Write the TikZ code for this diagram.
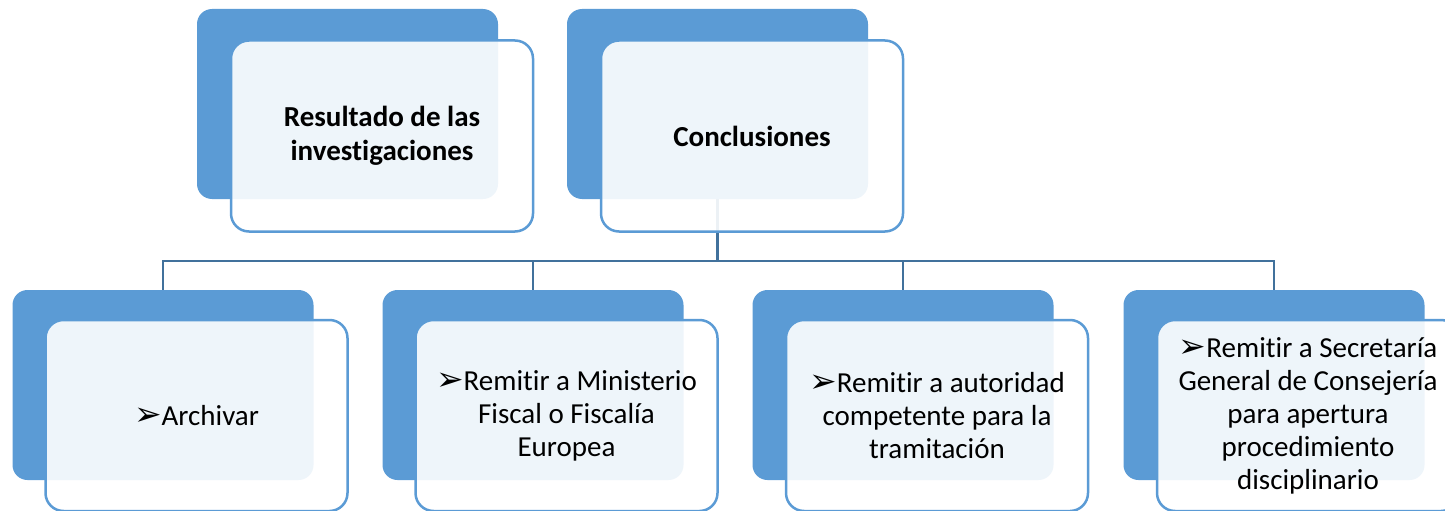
\documentclass[tikz,border=0pt]{standalone}
\usepackage{fontspec}
\setmainfont{Carlito}[Ligatures=NoCommon]
\newfontfamily\dingfont{DejaVu Sans}
\definecolor{boxblue}{HTML}{5B9BD5}
\definecolor{lineblue}{HTML}{41719C}
\newcommand{\bul}{{\dingfont\fontsize{33}{33}\selectfont ➢}}

\begin{document}
\begin{tikzpicture}[x=1pt, y=-1pt,
  back/.style={fill=boxblue, rounded corners=15pt, inner sep=0pt,
    minimum width=301pt, minimum height=190pt},
  front/.style={draw=boxblue, line width=2.5pt, fill=white, fill opacity=0.9,
    text opacity=1, rounded corners=18pt, inner sep=0pt,
    minimum width=302pt, minimum height=191pt, align=center,
    font=\fontsize{29}{33}\selectfont},
  link/.style={draw=lineblue, line width=2.8pt}]
\useasboundingbox (0,0) rectangle (1445,511);

% Back boxes, top row
\node[back] (resback) at (347.5,104) {};
\node[back] (conback) at (717.5,104) {};

% Back boxes, bottom row
\node[back] (arcback) at (163,385) {};
\node[back] (minback) at (533,385) {};
\node[back] (autback) at (903,385) {};
\node[back] (secback) at (1274,385) {};

% Connectors from Conclusions to the four outcomes
\coordinate (bar) at (0,261);
\draw[link] (conback.south) -- (conback.south |- bar);
\draw[link] (arcback.north) -- (arcback.north |- bar) -- (secback.north |- bar) -- (secback.north);
\draw[link] (minback.north) -- (minback.north |- bar);
\draw[link] (autback.north) -- (autback.north |- bar);

% Front boxes with the texts
\node[front, font=\fontsize{29}{34}\selectfont\bfseries] (res) at (382,136) {Resultado de las\\investigaciones};
\node[front, font=\fontsize{29}{34}\selectfont\bfseries] (con) at (752,136) {Conclusiones};
\node[front] (arc) at (196.5,415.5) {\bul Archivar};
\node[front] (min) at (566.5,415.5) {\bul Remitir a Ministerio\\Fiscal o Fiscalía\\Europea};
\node[front] (aut) at (937,415.5) {\bul Remitir a autoridad\\competente para la\\tramitación};
\node[front] (sec) at (1308,415.5) {\bul Remitir a Secretaría\\General de Consejería\\para apertura\\procedimiento\\disciplinario};
\end{tikzpicture}
\end{document}
